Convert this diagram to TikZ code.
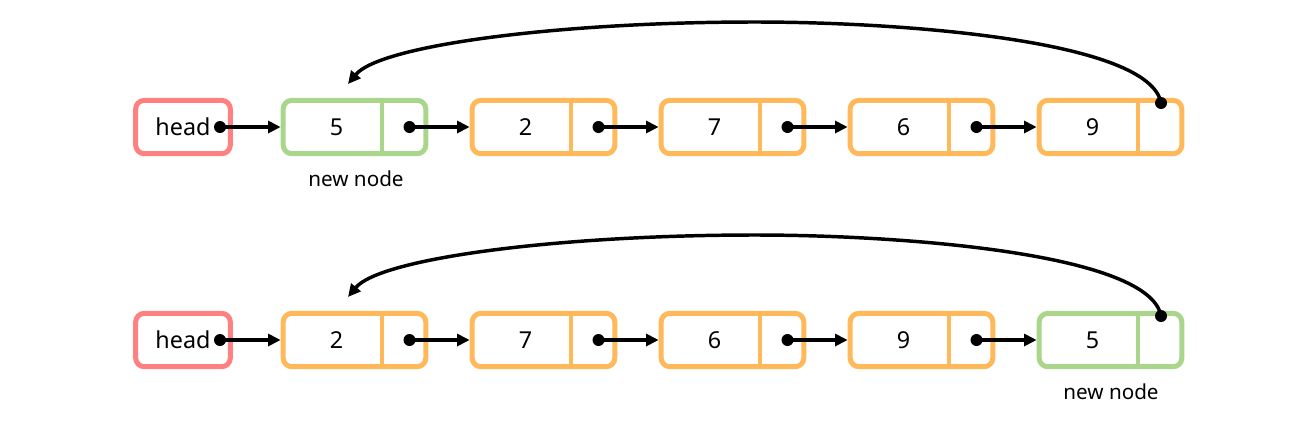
\documentclass[tikz,border=0pt]{standalone}
\usepackage{fontspec}
\setmainfont{Noto Sans}
\usetikzlibrary{positioning, arrows.meta, calc}
\definecolor{headred}{RGB}{255,128,128}
\definecolor{newgreen}{RGB}{169,214,139}
\definecolor{oldorange}{RGB}{255,185,90}

\begin{document}
\begin{tikzpicture}[x=0.75pt,y=-0.75pt,
  box/.style={draw, line width=3.75pt, rounded corners=6.5pt, minimum height=40pt, inner sep=0pt},
  headbox/.style={box, draw=headred, minimum width=71pt, font=\fontsize{17.5}{19}\selectfont},
  listbox/.style={box, minimum width=107pt},
  wall/.style={line width=3pt},
  dot/.style={circle, fill=black, inner sep=0pt, minimum size=9pt},
  ptr/.style={line width=2.6pt, -{Triangle[length=9.5pt,width=9pt]}},
  val/.style={inner sep=0pt, font=\fontsize{17.5}{19}\selectfont},
  lbl/.style={inner sep=0pt, anchor=base, font=\fontsize{15.5}{18}\selectfont}]
\useasboundingbox (0,0) rectangle (1296,426);
% first row
\node [headbox] (h1) at (183,127) {head};
\node [dot] (hp1) at ($(h1)+(37,0)$) {};
\node [listbox, draw=newgreen] (a1) at (354.5,127) {};
\node [val] at ($(a1)+(-18,0)$) {5};
\draw [wall, newgreen] ($(a1.north)+(27,0)$) -- ($(a1.south)+(27,0)$);
\node [dot] (ap1) at ($(a1)+(55,0)$) {};
\node [listbox, draw=oldorange] (a2) at (543.5,127) {};
\node [val] at ($(a2)+(-18,0)$) {2};
\draw [wall, oldorange] ($(a2.north)+(27,0)$) -- ($(a2.south)+(27,0)$);
\node [dot] (ap2) at ($(a2)+(55,0)$) {};
\node [listbox, draw=oldorange] (a3) at (732.5,127) {};
\node [val] at ($(a3)+(-18,0)$) {7};
\draw [wall, oldorange] ($(a3.north)+(27,0)$) -- ($(a3.south)+(27,0)$);
\node [dot] (ap3) at ($(a3)+(55,0)$) {};
\node [listbox, draw=oldorange] (a4) at (921.5,127) {};
\node [val] at ($(a4)+(-18,0)$) {6};
\draw [wall, oldorange] ($(a4.north)+(27,0)$) -- ($(a4.south)+(27,0)$);
\node [dot] (ap4) at ($(a4)+(55,0)$) {};
\node [listbox, draw=oldorange] (a5) at (1110.5,127) {};
\node [val] at ($(a5)+(-18,0)$) {9};
\draw [wall, oldorange] ($(a5.north)+(27,0)$) -- ($(a5.south)+(27,0)$);
\node [dot] (ap5) at ($(a5)+(50.5,-24)$) {};
\node [lbl] at (356,186) {new node};
\coordinate (r1) at ($(a1)+(-6.5,-43)$);
\draw [ptr] (hp1.center) -- (a1.west);
\draw [ptr] (ap1.center) -- (a2.west);
\draw [ptr] (ap2.center) -- (a3.west);
\draw [ptr] (ap3.center) -- (a4.west);
\draw [ptr] (ap4.center) -- (a5.west);
\draw [ptr] (ap5.center) .. controls (1150,40) and (900,22) .. (755,22)
  .. controls (560,22) and (380,45) .. (r1);
% second row
\node [headbox] (h2) at (183,340) {head};
\node [dot] (hp2) at ($(h2)+(37,0)$) {};
\node [listbox, draw=oldorange] (b1) at (354.5,340) {};
\node [val] at ($(b1)+(-18,0)$) {2};
\draw [wall, oldorange] ($(b1.north)+(27,0)$) -- ($(b1.south)+(27,0)$);
\node [dot] (bp1) at ($(b1)+(55,0)$) {};
\node [listbox, draw=oldorange] (b2) at (543.5,340) {};
\node [val] at ($(b2)+(-18,0)$) {7};
\draw [wall, oldorange] ($(b2.north)+(27,0)$) -- ($(b2.south)+(27,0)$);
\node [dot] (bp2) at ($(b2)+(55,0)$) {};
\node [listbox, draw=oldorange] (b3) at (732.5,340) {};
\node [val] at ($(b3)+(-18,0)$) {6};
\draw [wall, oldorange] ($(b3.north)+(27,0)$) -- ($(b3.south)+(27,0)$);
\node [dot] (bp3) at ($(b3)+(55,0)$) {};
\node [listbox, draw=oldorange] (b4) at (921.5,340) {};
\node [val] at ($(b4)+(-18,0)$) {9};
\draw [wall, oldorange] ($(b4.north)+(27,0)$) -- ($(b4.south)+(27,0)$);
\node [dot] (bp4) at ($(b4)+(55,0)$) {};
\node [listbox, draw=newgreen] (b5) at (1110.5,340) {};
\node [val] at ($(b5)+(-18,0)$) {5};
\draw [wall, newgreen] ($(b5.north)+(27,0)$) -- ($(b5.south)+(27,0)$);
\node [dot] (bp5) at ($(b5)+(50.5,-24)$) {};
\node [lbl] at (1111,399) {new node};
\coordinate (r2) at ($(b1)+(-6.5,-43)$);
\draw [ptr] (hp2.center) -- (b1.west);
\draw [ptr] (bp1.center) -- (b2.west);
\draw [ptr] (bp2.center) -- (b3.west);
\draw [ptr] (bp3.center) -- (b4.west);
\draw [ptr] (bp4.center) -- (b5.west);
\draw [ptr] (bp5.center) .. controls (1150,253) and (900,235) .. (755,235)
  .. controls (560,235) and (380,258) .. (r2);
\end{tikzpicture}
\end{document}
